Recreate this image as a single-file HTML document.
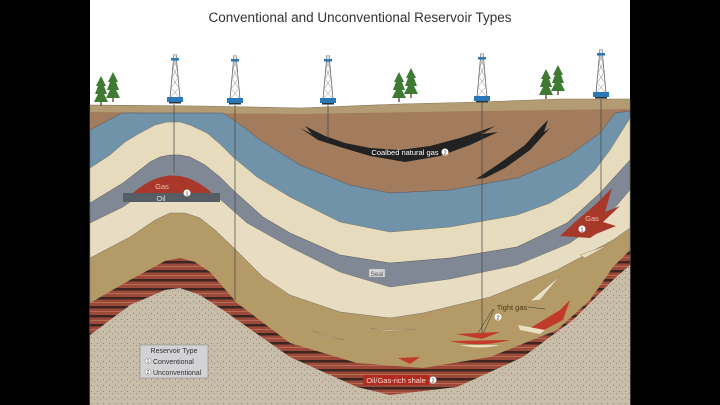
<!DOCTYPE html>
<html><head><meta charset="utf-8"><style>
html,body{margin:0;padding:0;background:#000;}
svg{display:block;}
text{font-family:"Liberation Sans",sans-serif;}
</style></head><body>
<svg width="720" height="405" viewBox="0 0 720 405" xmlns="http://www.w3.org/2000/svg">
<defs>
<pattern id="stripes" width="10" height="9" patternUnits="userSpaceOnUse">
<rect width="10" height="9" fill="#9b4a3a"/>
<rect y="0" width="10" height="2.5" fill="#3d2522"/>
<rect y="5" width="10" height="1" fill="#b86a55"/>
</pattern>
<pattern id="speck" width="6" height="6" patternUnits="userSpaceOnUse">
<rect width="6" height="6" fill="#c8bda9"/>
<rect x="1" y="1" width="1" height="1" fill="#8c8270"/>
<rect x="4" y="3" width="1" height="1" fill="#9a8f7c"/>
</pattern>
<g id="rig">
<line x1="-5" y1="46" x2="-1" y2="2" stroke="#666" stroke-width="0.8"/>
<line x1="5" y1="46" x2="1" y2="2" stroke="#666" stroke-width="0.8"/>
<path d="M-5,46 L4,36 M5,46 L-4,36 M-4,36 L3,26 M4,36 L-3,26 M-3,26 L2,16 M3,26 L-2,16 M-2,16 L1,8 M2,16 L-1,8" stroke="#888" stroke-width="0.5" fill="none"/>
<rect x="-4" y="6" width="8" height="2.5" fill="#2a78b8"/>
<rect x="-8" y="45" width="16" height="5" fill="#2a78b8"/>
<rect x="-6" y="50" width="12" height="1.5" fill="#333"/>
</g>
<g id="tree">
<polygon points="0,0 -5,10 -3,10 -6,18 -3,18 -7,26 7,26 3,18 6,18 3,10 5,10" fill="#3f7a33"/>
<rect x="-0.7" y="26" width="1.4" height="4" fill="#6b4a2a"/>
</g>
</defs>
<rect x="90" y="0" width="540" height="405" fill="#fff"/>
<text x="360" y="22" font-size="13.5" fill="#333" text-anchor="middle">Conventional and Unconventional Reservoir Types</text>

<path d="M90,105 L200,106 L300,108 L400,104 L480,102 L560,99 L630,99 L630,405 L90,405Z" fill="#b39b74" stroke="#8a7658" stroke-width="0.6"/>
<path d="M90,112 L300,114 L480,111 L630,109 L630,405 L90,405Z" fill="#a27c5c"/>
<path d="M90,130 L122,113 L223,113 L245,128 L260,140 L300,165 L350,185 L390,193 L450,190 L517,178 L567,157 L600,133 L615,113 L630,111 L630,405 L90,405Z" fill="#7093a9" stroke="#556" stroke-width="0.5"/>
<path d="M90,168 L110,155 L125,142 L140,133 L155,125 L167,122 L180,122 L190,125 L207,133 L220,144 L233,157 L257,177 L290,197 L340,222 L390,232 L450,227 L517,215 L550,203 L577,187 L595,170 L610,150 L630,118 L630,405 L90,405Z" fill="#e6dbbd" stroke="#776" stroke-width="0.5"/>
<path d="M90,203 L123,183 L150,162 L160,157 L170,155 L180,155 L190,157 L205,165 L220,177 L233,190 L263,217 L290,233 L340,255 L390,263 L450,258 L517,247 L567,223 L600,193 L630,160 L630,405 L90,405Z" fill="#7f8894" stroke="#555" stroke-width="0.5"/>
<path d="M90,223 L123,207 L150,188 L173,180 L200,185 L222,201 L247,223 L290,247 L340,272 L390,287 L450,279 L517,265 L570,243 L607,217 L630,190 L630,405 L90,405Z" fill="#e8ddc2" stroke="#776" stroke-width="0.5"/>
<path d="M90,258 L130,237 L155,220 L170,213 L185,213 L200,218 L215,230 L233,247 L263,277 L290,295 L340,312 L390,318 L423,313 L490,297 L557,270 L613,240 L630,228 L630,405 L90,405Z" fill="#b49a66" stroke="#776" stroke-width="0.5"/>
<path d="M90,303 L130,280 L165,261 L180,258 L195,262 L210,272 L237,303 L290,343 L357,363 L423,368 L490,357 L557,330 L590,300 L613,267 L630,250 L630,405 L90,405Z" fill="url(#stripes)"/>
<path d="M90,335 L130,305 L165,290 L180,288 L200,295 L223,310 L290,357 L357,387 L390,395 L457,387 L523,357 L573,320 L613,280 L630,265 L630,405 L90,405Z" fill="url(#speck)"/>

<path d="M300,128 L312,134 L305,126 L325,136 L345,143 L370,148 L400,150 L430,146 L460,138 L478,132 L495,126 L482,134 L498,132 L470,145 L440,156 L405,162 L370,156 L340,147 L318,140Z" fill="#222"/>
<path d="M476,179 L500,163 L525,145 L540,128 L548,120 L544,132 L550,128 L530,150 L505,168 L485,178Z" fill="#222"/>
<text x="405" y="155" font-size="7.5" fill="#fff" text-anchor="middle">Coalbed natural gas</text>
<circle cx="445" cy="152" r="3.5" fill="#fff"/><text x="445" y="154.5" font-size="5.5" fill="#333" text-anchor="middle">2</text>

<g stroke="#444" stroke-width="0.7">
<line x1="174" y1="104" x2="174" y2="173"/>
<line x1="235" y1="105" x2="235" y2="300"/>
<line x1="328" y1="104" x2="328" y2="140"/>
<line x1="482" y1="102" x2="482" y2="335"/>
<line x1="601" y1="99" x2="601" y2="225"/>
</g>

<path d="M133,193 Q173,158 212,193Z" fill="#a8382a"/>
<rect x="123" y="193" width="97" height="9" fill="#575d64"/>
<text x="162" y="189" font-size="7.5" fill="#f3c0b0" text-anchor="middle">Gas</text>
<text x="161" y="201" font-size="7.5" fill="#ddd" text-anchor="middle">Oil</text>
<circle cx="187" cy="193" r="3.5" fill="#fff"/><text x="187" y="195.5" font-size="5.5" fill="#333" text-anchor="middle">1</text>

<path d="M560,236 L575,222 L596,204 L612,188 L605,212 L620,206 L603,222 L616,226 L596,234 L590,238Z" fill="#a8382a"/>
<text x="592" y="221" font-size="7.5" fill="#f3c0b0" text-anchor="middle">Gas</text>
<circle cx="582" cy="229" r="3.5" fill="#fff"/><text x="582" y="231.5" font-size="5.5" fill="#333" text-anchor="middle">1</text>

<rect x="369" y="269" width="16" height="8" fill="#d8d8d8" stroke="#999" stroke-width="0.4"/>
<text x="377" y="276" font-size="6.5" fill="#555" text-anchor="middle">Seal</text>

<g fill="#eadfc0" stroke="#8a7858" stroke-width="0.4">
<path d="M313,331 Q330,337 344,340 Q328,338 313,331Z"/>
<path d="M370,328 Q390,334 415,329 Q393,332 370,328Z"/>
<path d="M530,301 L560,276 L540,300Z"/>
<path d="M580,255 L608,245 L585,258Z"/>
</g>
<path d="M456,334 L500,332 L482,339Z" fill="#c23a2a"/>
<path d="M450,341 L510,340 Q480,348 450,341Z" fill="#c23a2a"/>
<path d="M460,345 L500,345 Q480,350 460,345Z" fill="#eadfc0"/>
<path d="M398,358 L420,357 L410,364Z" fill="#c23a2a"/>
<path d="M527,330 L560,310 L570,300 L563,320 L540,332Z" fill="#c23a2a"/>
<path d="M518,325 L545,330 L540,334 L520,330Z" fill="#eadfc0"/>
<g stroke="#333" stroke-width="0.5"><line x1="483" y1="334" x2="494" y2="309"/><line x1="478" y1="333" x2="493" y2="309"/><line x1="528" y1="307" x2="545" y2="309"/></g>
<text x="512" y="310" font-size="7.5" fill="#4a3a1a" text-anchor="middle">Tight gas</text>
<circle cx="498" cy="317" r="3.5" fill="#fff"/><text x="498" y="319.5" font-size="5.5" fill="#333" text-anchor="middle">2</text>

<rect x="363" y="375" width="66" height="10" fill="#b02a20"/>
<text x="396" y="383" font-size="7.5" fill="#f5dcd0" text-anchor="middle">Oil/Gas-rich shale</text>
<circle cx="433" cy="380" r="3.5" fill="#fff"/><text x="433" y="382.5" font-size="5.5" fill="#333" text-anchor="middle">2</text>

<rect x="140" y="345" width="68" height="33" fill="#d3d3d6" stroke="#888" stroke-width="0.6"/>
<text x="174" y="353" font-size="7" fill="#333" text-anchor="middle">Reservoir Type</text>
<circle cx="148" cy="361" r="3" fill="#fff" stroke="#555" stroke-width="0.4"/><text x="148" y="363" font-size="5" fill="#333" text-anchor="middle">1</text>
<text x="153" y="364" font-size="7" fill="#333">Conventional</text>
<circle cx="148" cy="372" r="3" fill="#fff" stroke="#555" stroke-width="0.4"/><text x="148" y="374" font-size="5" fill="#333" text-anchor="middle">2</text>
<text x="153" y="375" font-size="7" fill="#333">Unconventional</text>

<use href="#rig" x="175" y="52"/>
<use href="#rig" x="235" y="53"/>
<use href="#rig" x="328" y="53"/>
<use href="#rig" x="482" y="51"/>
<use href="#rig" x="601" y="47"/>
<use href="#tree" x="101" y="76"/>
<use href="#tree" x="113" y="72"/>
<use href="#tree" x="399" y="72"/>
<use href="#tree" x="411" y="68"/>
<use href="#tree" x="546" y="69"/>
<use href="#tree" x="558" y="65"/>
</svg>
</body></html>
